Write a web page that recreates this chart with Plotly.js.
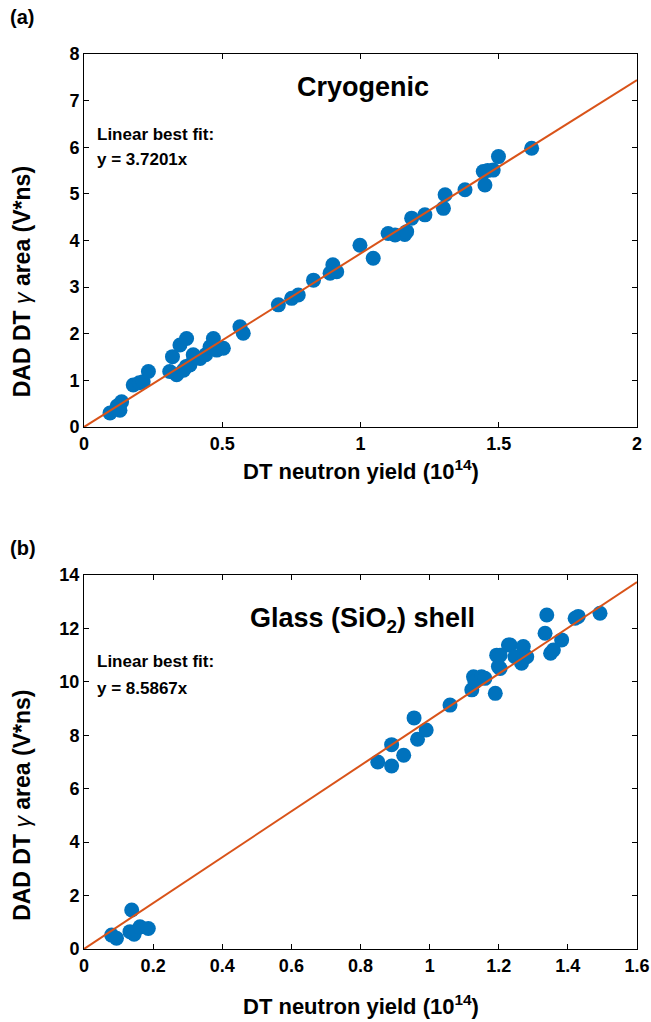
<!DOCTYPE html>
<html>
<head>
<meta charset="utf-8">
<script src="https://cdn.plot.ly/plotly-3.0.1.min.js"></script>
<style>html,body{margin:0;padding:0;background:#fff;}#chart{width:651px;height:1022px;}</style>
</head>
<body>
<div id="chart"></div>
<script>
// (a) Cryogenic: DT neutron yield (1e14) vs DAD DT gamma area (V*ns)
const cryoYield = [0.094,0.12,0.13,0.136,0.178,0.20,0.214,0.233,0.31,0.32,0.335,0.347,0.36,0.371,0.37,0.383,0.395,0.42,0.44,0.456,0.468,0.48,0.504,0.564,0.576,0.703,0.751,0.775,0.83,0.89,0.90,0.914,0.998,1.046,1.10,1.125,1.16,1.167,1.185,1.233,1.30,1.306,1.378,1.444,1.45,1.46,1.48,1.499,1.619];
const cryoArea  = [0.30,0.45,0.36,0.54,0.90,0.95,0.97,1.19,1.19,1.51,1.12,1.76,1.22,1.90,1.30,1.33,1.55,1.47,1.55,1.72,1.90,1.65,1.69,2.15,2.01,2.62,2.76,2.83,3.15,3.30,3.48,3.33,3.90,3.62,4.15,4.12,4.13,4.19,4.48,4.55,4.69,4.98,5.09,5.48,5.19,5.50,5.51,5.80,5.98];
const cryoSlope = 3.7201;
const cryoFitX = [0, 2];

// (b) Glass (SiO2) shell
const glassYield = [0.08,0.094,0.138,0.133,0.145,0.162,0.186,0.85,0.89,0.89,0.925,0.955,0.965,0.99,1.059,1.122,1.127,1.131,1.15,1.16,1.19,1.194,1.199,1.204,1.204,1.228,1.233,1.247,1.266,1.271,1.281,1.334,1.339,1.35,1.358,1.382,1.421,1.43,1.493];
const glassArea  = [0.52,0.40,1.46,0.65,0.55,0.83,0.77,7.00,6.85,7.65,7.25,8.65,7.85,8.20,9.13,9.70,10.19,10.0,10.19,10.13,9.57,11.0,10.57,11.0,10.5,11.38,11.38,10.94,10.7,11.32,10.94,11.82,12.5,11.07,11.19,11.57,12.38,12.45,12.57];
const glassSlope = 8.5867;
const glassFitX = [0, 1.6];

const blue = '#0072BD', orange = '#D95319';
const FF = 'Liberation Sans, Arial, sans-serif';

const traces = [
  {x: cryoYield, y: cryoArea, type: 'scatter', mode: 'markers', xaxis: 'x', yaxis: 'y',
   marker: {color: blue, size: 15}},
  {x: cryoFitX, y: cryoFitX.map(v => v * cryoSlope), type: 'scatter', mode: 'lines', xaxis: 'x', yaxis: 'y',
   line: {color: orange, width: 2}},
  {x: glassYield, y: glassArea, type: 'scatter', mode: 'markers', xaxis: 'x2', yaxis: 'y2',
   marker: {color: blue, size: 15}},
  {x: glassFitX, y: glassFitX.map(v => v * glassSlope), type: 'scatter', mode: 'lines', xaxis: 'x2', yaxis: 'y2',
   line: {color: orange, width: 2}}
];

const axBase = {
  showline: true, mirror: 'ticks', linecolor: '#000', linewidth: 1,
  ticks: 'inside', ticklen: 5, tickcolor: '#000', tickwidth: 1,
  showgrid: false, zeroline: false, fixedrange: true,
  tickfont: {family: FF, size: 18, color: '#000', weight: 'bold'}
};

const txt = (text, x, y, size, xanchor, extra) => Object.assign({
  text: text, x: x, y: y, xref: 'paper', yref: 'paper', showarrow: false,
  xanchor: xanchor || 'center', yanchor: 'middle',
  font: {family: FF, size: size, color: '#000', weight: 'bold'}
}, extra || {});

const ytitle = 'DAD DT <span style="font-weight:normal;font-style:italic">γ</span> area (V*ns)';
const xtitle = 'DT neutron yield (10<sup>14</sup>)';

const layout = {
  width: 651, height: 1022,
  margin: {l: 84, r: 14, t: 54, b: 73},
  paper_bgcolor: '#fff', plot_bgcolor: '#fff',
  showlegend: false,
  xaxis: Object.assign({}, axBase, {anchor: 'y', range: [0, 2], dtick: 0.5, tick0: 0}),
  yaxis: Object.assign({}, axBase, {anchor: 'x', domain: [0.5832, 1], range: [0, 8], dtick: 1, tick0: 0}),
  xaxis2: Object.assign({}, axBase, {anchor: 'y2', range: [0, 1.6], dtick: 0.2, tick0: 0}),
  yaxis2: Object.assign({}, axBase, {anchor: 'x2', domain: [0, 0.4179], range: [0, 14], dtick: 2, tick0: 0}),
  annotations: [
    txt('(a)', -0.137, 1.0413, 20, 'left'),
    txt('(b)', -0.137, 0.448, 20, 'left'),
    txt('Cryogenic', 0.5045, 0.963, 27),
    txt('Linear best fit:', 0.0199, 0.9106, 17, 'left'),
    txt('y = 3.7201x', 0.0199, 0.8816, 17, 'left'),
    txt('Glass (SiO<sub>2</sub>) shell', 0.5045, 0.3676, 27),
    txt('Linear best fit:', 0.0199, 0.3207, 17, 'left'),
    txt('y = 8.5867x', 0.0199, 0.2916, 17, 'left'),
    txt(xtitle, 0.5, 0.535, 22),
    txt(xtitle, 0.5, -0.0626, 22),
    txt(ytitle, -0.112, 0.745, 23, 'center', {textangle: -90}),
    txt(ytitle, -0.112, 0.160, 23, 'center', {textangle: -90})
  ]
};

Plotly.newPlot('chart', traces, layout, {displayModeBar: false, staticPlot: true});
</script>
</body>
</html>
